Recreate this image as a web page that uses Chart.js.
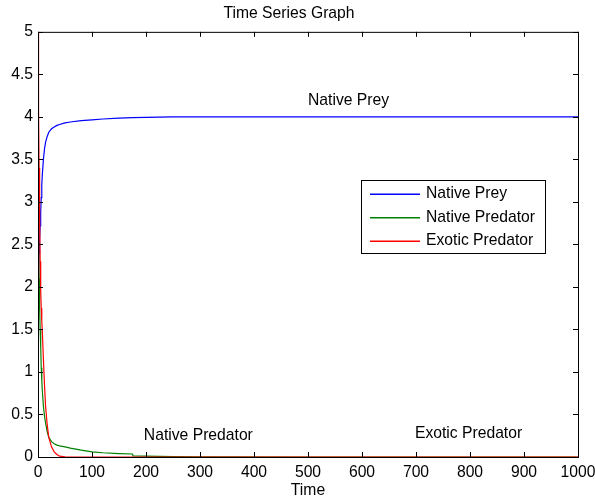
<!DOCTYPE html>
<html>
<head>
<meta charset="utf-8">
<script src="https://cdn.jsdelivr.net/npm/chart.js@4"></script>
<style>
  body { margin: 0; background: #fff; }
  #wrap { width: 595px; height: 503px; }
</style>
</head>
<body>
<div id="wrap"><canvas id="myChart" width="595" height="503"></canvas></div>
<script>
// time points shared by the three series
var times = [0, 1, 2, 3, 4, 5, 6, 7, 8, 10, 12, 14, 17, 20, 25, 30, 35, 40, 50, 60, 80, 100, 120, 150, 175, 176, 200, 250, 300, 500, 1000];

var nativePrey = [2.0, 2.2, 2.4, 2.55, 2.72, 2.88, 3.05, 3.2, 3.32, 3.5, 3.62, 3.7, 3.77, 3.82, 3.86, 3.88, 3.9, 3.91, 3.93, 3.94, 3.955, 3.965, 3.975, 3.985, 3.99, 3.99, 3.995, 4.0, 4.0, 4.0, 4.0];
var nativePredator = [3.5, 2.6, 2.1, 1.75, 1.5, 1.3, 1.05, 0.9, 0.78, 0.6, 0.48, 0.4, 0.3, 0.23, 0.18, 0.155, 0.14, 0.13, 0.12, 0.105, 0.08, 0.06, 0.05, 0.04, 0.035, 0.012, 0.01, 0.005, 0.002, 0, 0];
var exoticPredator = [5.0, 4.1, 3.4, 2.8, 2.3, 1.95, 1.75, 1.6, 1.48, 1.15, 0.85, 0.6, 0.38, 0.23, 0.12, 0.06, 0.03, 0.01, 0.003, 0, 0, 0, 0, 0, 0, 0, 0, 0, 0, 0, 0];

var seriesNames = ['Native Prey', 'Native Predator', 'Exotic Predator'];
var seriesColors = ['#0000ff', '#008000', '#ff0000'];

// text labels placed inside the plot (data coordinates)
var notes = [
    { text: 'Native Prey', x: 500, y: 4.19 },
    { text: 'Native Predator', x: 196, y: 0.25 },
    { text: 'Exotic Predator', x: 698, y: 0.28 }
];

var FAMILY = '"Liberation Sans", Arial, sans-serif';
var FONT = '15.7px ' + FAMILY;

function toPoints(vals) {
    var pts = [];
    for (var i = 0; i < times.length; i++) {
        pts.push({ x: times[i], y: vals[i] });
    }
    return pts;
}

var allValues = [nativePrey, nativePredator, exoticPredator];
var datasets = [];
for (var s = 0; s < 3; s++) {
    datasets.push({
        label: seriesNames[s],
        data: toPoints(allValues[s]),
        borderColor: seriesColors[s],
        backgroundColor: seriesColors[s],
        borderWidth: 1.2,
        pointRadius: 0,
        tension: 0,
        order: 2 - s
    });
}

// box, inward ticks, text notes and legend like a matlab figure
var matlabLook = {
    id: 'matlabLook',
    afterDraw: function(chart) {
        var ctx = chart.ctx;
        var a = chart.chartArea;
        var xs = chart.scales.x, ys = chart.scales.y;
        ctx.save();
        ctx.strokeStyle = '#000';
        ctx.lineWidth = 1;
        ctx.strokeRect(a.left + 0.5, a.top + 0.5, a.right - a.left, a.bottom - a.top);

        ctx.beginPath();
        xs.ticks.forEach(function(t) {
            var px = Math.round(xs.getPixelForValue(t.value)) + 0.5;
            ctx.moveTo(px, a.bottom); ctx.lineTo(px, a.bottom - 5);
            ctx.moveTo(px, a.top); ctx.lineTo(px, a.top + 5);
        });
        ys.ticks.forEach(function(t) {
            var py = Math.round(ys.getPixelForValue(t.value)) + 0.5;
            ctx.moveTo(a.left, py); ctx.lineTo(a.left + 5, py);
            ctx.moveTo(a.right, py); ctx.lineTo(a.right - 5, py);
        });
        ctx.stroke();

        ctx.font = FONT;
        ctx.fillStyle = '#000';
        ctx.textBaseline = 'middle';
        ctx.textAlign = 'left';
        notes.forEach(function(n) {
            ctx.fillText(n.text, xs.getPixelForValue(n.x), ys.getPixelForValue(n.y));
        });

        // legend box
        var lx = Math.round(a.right - 217), ly = Math.round(a.top + 148), lw = 184, lh = 73;
        ctx.fillStyle = '#fff';
        ctx.fillRect(lx, ly, lw, lh);
        ctx.strokeStyle = '#000';
        ctx.strokeRect(lx + 0.5, ly + 0.5, lw, lh);
        ctx.lineWidth = 1.4;
        for (var i = 0; i < seriesNames.length; i++) {
            var rowY = ly + 14 + i * 23.5;
            ctx.beginPath();
            ctx.strokeStyle = seriesColors[i];
            ctx.moveTo(lx + 9, rowY + 0.2);
            ctx.lineTo(lx + 59, rowY + 0.2);
            ctx.stroke();
            ctx.fillStyle = '#000';
            ctx.fillText(seriesNames[i], lx + 65, rowY);
        }
        ctx.restore();
    }
};

new Chart(document.getElementById('myChart'), {
    type: 'line',
    data: { datasets: datasets },
    plugins: [matlabLook],
    options: {
        responsive: false,
        animation: false,
        layout: { padding: { left: 0, right: 17, top: 0, bottom: 0 } },
        plugins: {
            legend: { display: false },
            tooltip: { enabled: false },
            title: {
                display: true,
                text: 'Time Series Graph',
                color: '#000',
                font: { family: FAMILY, size: 15.7, weight: 'normal', lineHeight: 1.2 },
                padding: { top: 4, bottom: 9 }
            }
        },
        scales: {
            x: {
                type: 'linear',
                min: 0,
                max: 1000,
                afterFit: function(scale) {
                    scale.height = 46;
                    scale.paddingLeft = 0;
                    scale.paddingRight = 0;
                },
                grid: { display: false, drawTicks: false },
                border: { display: false },
                ticks: {
                    stepSize: 100,
                    color: '#000',
                    padding: 6,
                    maxRotation: 0,
                    font: { family: FAMILY, size: 15.7 },
                    callback: function(v) { return String(v); }
                },
                title: {
                    display: true,
                    text: 'Time',
                    color: '#000',
                    font: { family: FAMILY, size: 15.7 },
                    padding: { top: 0, bottom: 3 }
                }
            },
            y: {
                type: 'linear',
                min: 0,
                max: 5,
                afterFit: function(scale) {
                    scale.width = 38;
                    scale.paddingTop = 0;
                    scale.paddingBottom = 0;
                },
                grid: { display: false, drawTicks: false },
                border: { display: false },
                ticks: {
                    stepSize: 0.5,
                    color: '#000',
                    padding: 5,
                    font: { family: FAMILY, size: 15.7 },
                    callback: function(v) { return String(v); }
                }
            }
        }
    }
});
</script>
</body>
</html>
